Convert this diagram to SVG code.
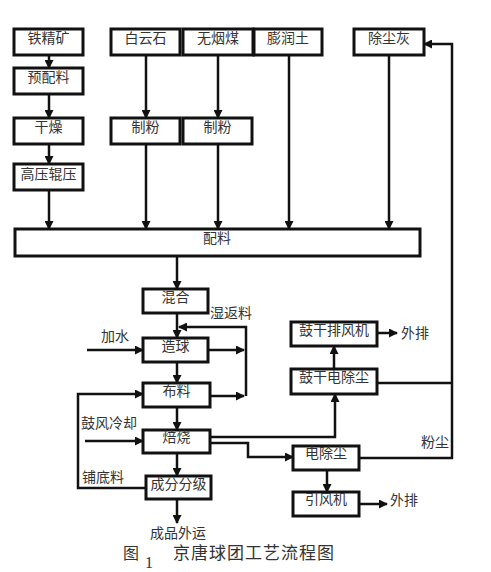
<svg xmlns="http://www.w3.org/2000/svg" width="491" height="572" viewBox="0 0 491 572">
<style>
.box{fill:#fff;stroke:#111;stroke-width:3}
.t{font-family:"Noto Sans CJK SC","Liberation Sans",sans-serif;font-size:14px;fill:#333;text-anchor:middle}
.l{font-family:"Noto Sans CJK SC","Liberation Sans",sans-serif;font-size:14px;fill:#333}
.c{fill:none;stroke:#111;stroke-width:2.5}
.a{marker-end:url(#ah)}
</style>
<defs>
<marker id="ah" markerUnits="userSpaceOnUse" markerWidth="9" markerHeight="9" refX="8" refY="4.5" orient="auto" viewBox="0 0 9 9">
<path d="M0,0 L9,4.5 L0,9 z" fill="#111"/>
</marker>
</defs>
<rect width="491" height="572" fill="#fff"/>
<g id="connectors">
<path class="c a" d="M49,55V68"/>
<path class="c a" d="M49,94V118"/>
<path class="c a" d="M49,144V164"/>
<path class="c a" d="M49,190V229"/>
<path class="c a" d="M146,55V118"/>
<path class="c a" d="M146,144V229"/>
<path class="c a" d="M218,55V118"/>
<path class="c a" d="M218,144V229"/>
<path class="c a" d="M289,56V229"/>
<path class="c a" d="M389,56V229"/>
<path class="c a" d="M359,458H452V44H424"/>
<path class="c" d="M377,383H452"/>
<path class="c a" d="M177,256V289"/>
<path class="c a" d="M177,313V338"/>
<path class="c a" d="M177,362V383"/>
<path class="c a" d="M177,407V430"/>
<path class="c a" d="M177,453V476"/>
<path class="c a" d="M177,499V523"/>
<path class="c a" d="M208,350H244"/>
<path class="c a" d="M210,396H244"/>
<path class="c a" d="M246,396V327H179"/>
<path class="c a" d="M87,350H143"/>
<path class="c a" d="M85,441H143"/>
<path class="c a" d="M146,488H78V394H143"/>
<path class="c a" d="M210,437H335V394"/>
<path class="c a" d="M210,443H248V457H293"/>
<path class="c a" d="M334,369V346"/>
<path class="c a" d="M377,333H397"/>
<path class="c a" d="M327,470V492"/>
<path class="c a" d="M359,504H387"/>
</g>
<g id="n-tiejingkuang"><rect class="box" x="14" y="29" width="69" height="26"/><text class="t" x="48.5" y="43">铁精矿</text></g>
<g id="n-yupeiliao"><rect class="box" x="14" y="68" width="69" height="26"/><text class="t" x="48.5" y="82">预配料</text></g>
<g id="n-ganzao"><rect class="box" x="14" y="118" width="69" height="26"/><text class="t" x="48.5" y="132">干燥</text></g>
<g id="n-gaoya"><rect class="box" x="14" y="164" width="69" height="26"/><text class="t" x="48.5" y="179">高压辊压</text></g>
<g id="n-baiyunshi"><rect class="box" x="111" y="29" width="69" height="26"/><text class="t" x="145.5" y="43">白云石</text></g>
<g id="n-wuyanmei"><rect class="box" x="183" y="29" width="70" height="26"/><text class="t" x="218" y="43">无烟煤</text></g>
<g id="n-pengruntu"><rect class="box" x="254" y="29" width="68" height="26"/><text class="t" x="288" y="43">膨润土</text></g>
<g id="n-chuchenhui"><rect class="box" x="354" y="29" width="70" height="26"/><text class="t" x="389" y="43">除尘灰</text></g>
<g id="n-zhifen1"><rect class="box" x="111" y="118" width="69" height="26"/><text class="t" x="145.5" y="132">制粉</text></g>
<g id="n-zhifen2"><rect class="box" x="183" y="118" width="69" height="26"/><text class="t" x="217.5" y="132">制粉</text></g>
<g id="n-peiliao"><rect class="box" x="15" y="229" width="405" height="27"/><text class="t" x="217" y="243">配料</text></g>
<g id="n-hunhe"><rect class="box" x="143" y="289" width="65" height="24"/><text class="t" x="175.5" y="302">混合</text></g>
<g id="n-zaoqiu"><rect class="box" x="143" y="338" width="65" height="24"/><text class="t" x="175.5" y="351">造球</text></g>
<g id="n-buliao"><rect class="box" x="143" y="383" width="67" height="24"/><text class="t" x="176.5" y="396">布料</text></g>
<g id="n-beishao"><rect class="box" x="143" y="430" width="67" height="23"/><text class="t" x="176.5" y="442">焙烧</text></g>
<g id="n-chengfen"><rect class="box" x="146" y="476" width="65" height="23"/><text class="t" x="178.5" y="489">成分分级</text></g>
<g id="n-paifengji"><rect class="box" x="291" y="322" width="86" height="24"/><text class="t" x="334" y="335">鼓干排风机</text></g>
<g id="n-gudianchuchen"><rect class="box" x="291" y="369" width="86" height="25"/><text class="t" x="334" y="382">鼓干电除尘</text></g>
<g id="n-dianchuchen"><rect class="box" x="293" y="446" width="66" height="24"/><text class="t" x="326" y="458">电除尘</text></g>
<g id="n-yinfengji"><rect class="box" x="293" y="492" width="66" height="24"/><text class="t" x="326" y="504">引风机</text></g>
<g id="labels">
<text class="l" x="210" y="318">湿返料</text>
<text class="l" x="101" y="341">加水</text>
<text class="l" x="401" y="338">外排</text>
<text class="l" x="81" y="428">鼓风冷却</text>
<text class="l" x="82" y="482">铺底料</text>
<text class="l" x="421" y="447">粉尘</text>
<text class="l" x="390" y="505">外排</text>
<text class="l" x="150" y="538">成品外运</text>
<text x="123" y="559" style="font-family:'Noto Sans CJK SC',sans-serif;font-size:16px;fill:#333">图</text>
<text x="145" y="568" style="font-family:'Liberation Serif',serif;font-size:16px;fill:#333">1</text>
<text x="173" y="559" style="font-family:'Noto Sans CJK SC',sans-serif;font-size:17px;fill:#333;letter-spacing:1px">京唐球团工艺流程图</text>
</g>
</svg>
